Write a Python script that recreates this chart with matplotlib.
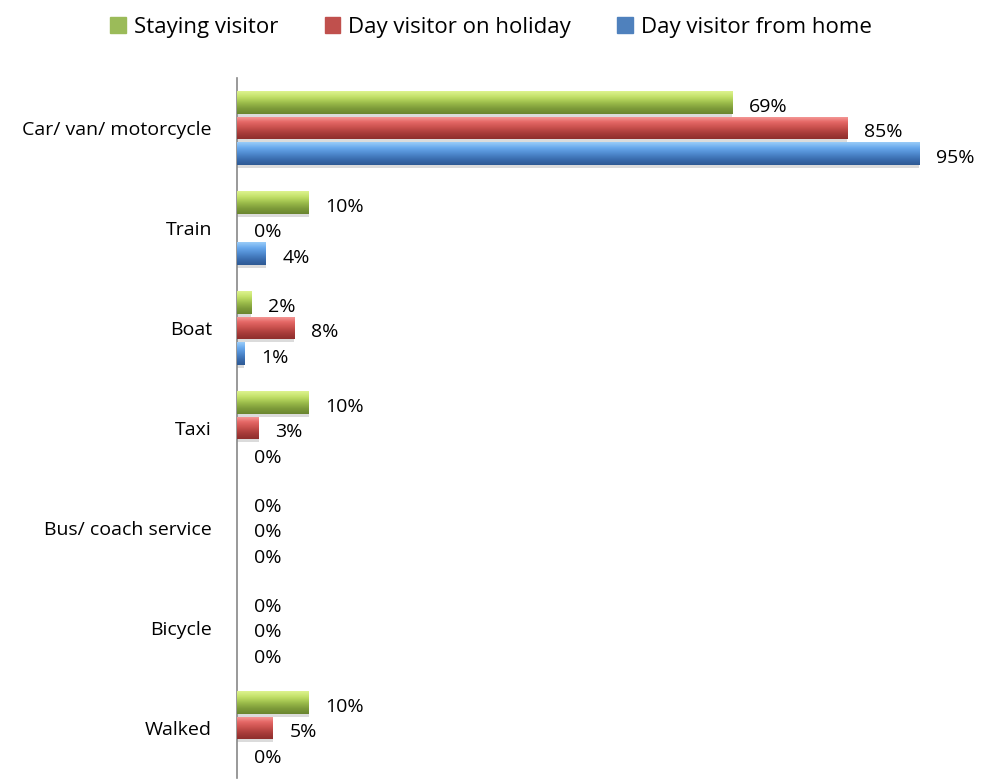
import matplotlib
matplotlib.use("Agg")
import matplotlib.pyplot as plt
import numpy as np
from matplotlib.colors import LinearSegmentedColormap
from matplotlib.patches import Rectangle

categories = ["Car/ van/ motorcycle", "Train", "Boat", "Taxi",
              "Bus/ coach service", "Bicycle", "Walked"]
series_names = ["Staying visitor", "Day visitor on holiday", "Day visitor from home"]
staying = [69, 10, 2, 10, 0, 0, 10]
holiday = [85, 0, 8, 3, 0, 0, 5]
home = [95, 4, 1, 0, 0, 0, 0]
series = [staying, holiday, home]

base_colors = ["#9BBB59", "#C0504D", "#4F81BD"]
grad_colors = [
    ["#DDF38E", "#C2E068", "#9DBE4C", "#7E9C3A", "#6A8530"],
    ["#F7A09E", "#E56866", "#C9504D", "#A73B39", "#8E2F2D"],
    ["#99CCF8", "#68A8EC", "#4F8ACF", "#3A6DAF", "#2F5A94"],
]

plt.rcParams['font.family'] = ['Open Sans', 'DejaVu Sans']

fig = plt.figure(figsize=(9.82, 7.81), dpi=100)
ax = fig.add_axes([237/982, 3/781, 700/982, 700/781])

y = np.arange(len(categories))
h = 0.225
offsets = [-0.255, 0.0, 0.255]

for si, (vals, off) in enumerate(zip(series, offsets)):
    bars = ax.barh(y + off, vals, height=h, color=base_colors[si],
                   edgecolor="none", zorder=2)
    cmap = LinearSegmentedColormap.from_list("g%d" % si, grad_colors[si])
    grad = np.linspace(0, 1, 64).reshape(-1, 1)
    for b, v in zip(bars, vals):
        if v <= 0:
            continue
        x0, y0 = b.get_x(), b.get_y()
        w, hh = b.get_width(), b.get_height()
        im = ax.imshow(grad, aspect="auto", cmap=cmap, origin="upper",
                       extent=[x0, x0 + w, y0 + hh, y0], zorder=3,
                       interpolation="bilinear")
        im.set_clip_path(b)
        ax.add_patch(Rectangle((x0, y0 + hh), w, 0.03, color="#c4c4c4",
                               alpha=0.6, zorder=1, lw=0))
    for b, v in zip(bars, vals):
        ax.annotate(f"{v}%", xy=(b.get_x() + b.get_width(), b.get_y() + b.get_height() / 2),
                    xytext=(12, -3), textcoords="offset points", ha="left",
                    va="center", fontsize=14, color="#000000")

ax.set_xlim(0, 97.5)
ax.set_ylim(len(categories) - 0.5, -0.5)
ax.set_yticks(y)
ax.set_yticklabels(categories, fontsize=14)
ax.tick_params(axis="y", length=0, pad=18)
ax.set_xticks([])
for s in ["top", "right", "bottom"]:
    ax.spines[s].set_visible(False)
ax.spines["left"].set_color("#888888")
ax.spines["left"].set_linewidth(1.2)

handles = [Rectangle((0, 0), 1, 1, color=c) for c in base_colors]
fig.legend(handles, series_names, loc="center", bbox_to_anchor=(491/982, 1 - 27/781),
           ncol=3, frameon=False, fontsize=16, handlelength=0.7, handleheight=0.7,
           columnspacing=2.1, handletextpad=0.35)

fig.savefig("out.png", dpi=100)
